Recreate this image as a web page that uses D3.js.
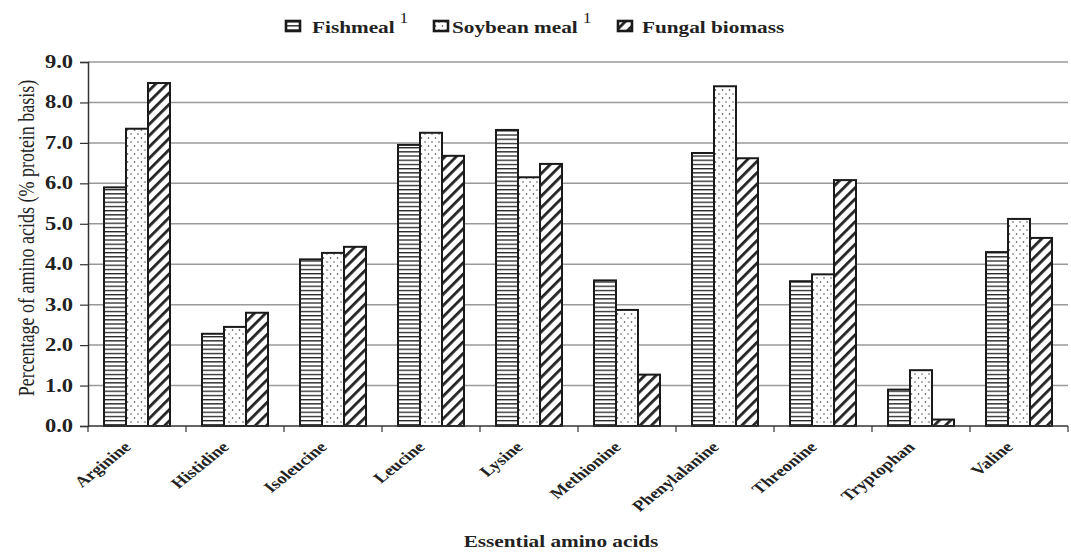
<!DOCTYPE html>
<html><head><meta charset="utf-8">
<script src="https://cdn.jsdelivr.net/npm/d3@7"></script>
<style>body{margin:0;background:#fff}svg{display:block}text{font-family:"Liberation Serif","Times New Roman",serif}</style>
</head><body><svg id="c" width="1071" height="555"></svg>
<script>
const categories = ["Arginine","Histidine","Isoleucine","Leucine","Lysine","Methionine","Phenylalanine","Threonine","Tryptophan","Valine"];
const seriesNames = ["Fishmeal","Soybean meal","Fungal biomass"];
const fishmeal = [5.9,2.28,4.12,6.95,7.32,3.6,6.75,3.58,0.9,4.3];
const soybean = [7.35,2.45,4.28,7.25,6.15,2.87,8.4,3.75,1.38,5.12];
const fungal = [8.48,2.8,4.43,6.68,6.48,1.27,6.62,6.08,0.16,4.65];
const yTicks = [0,1,2,3,4,5,6,7,8,9];

const SX = 1.25; // horizontal text stretch seen in the reference
const svg = d3.select("#c");
const m = {l:88, r:1068, t:62, b:426};
const x = d3.scaleBand().domain(categories).range([m.l, m.r]);
const x1 = d3.scaleBand().domain(seriesNames).range([0, 66]);
const y = d3.scaleLinear().domain([0,9]).range([m.b, m.t]);

const defs = svg.append("defs");
const p1 = defs.append("pattern").attr("id","pf").attr("patternUnits","userSpaceOnUse").attr("width",8).attr("height",4.2);
p1.append("rect").attr("width",8).attr("height",4.2).attr("fill","#fff");
p1.append("rect").attr("y",0).attr("width",8).attr("height",1.3).attr("fill","#222");
const p2 = defs.append("pattern").attr("id","ps").attr("patternUnits","userSpaceOnUse").attr("width",7).attr("height",8);
p2.append("rect").attr("width",7).attr("height",8).attr("fill","#fff");
p2.append("circle").attr("cx",1.5).attr("cy",2).attr("r",0.8).attr("fill","#333");
p2.append("circle").attr("cx",5).attr("cy",6).attr("r",0.8).attr("fill","#555");
const p3 = defs.append("pattern").attr("id","pg").attr("patternUnits","userSpaceOnUse").attr("width",8).attr("height",8).attr("patternTransform","rotate(45)");
p3.append("rect").attr("width",8).attr("height",8).attr("fill","#fff");
p3.append("rect").attr("x",0).attr("width",2.8).attr("height",8).attr("fill","#222");
const fills = ["url(#pf)","url(#ps)","url(#pg)"];

// gridlines
svg.append("g").selectAll("line").data(yTicks.slice(1)).join("line")
  .attr("x1",m.l).attr("x2",m.r).attr("y1",d=>y(d)).attr("y2",d=>y(d))
  .attr("stroke","#9a9a9a").attr("stroke-width",1.5);

// bars
const series = [fishmeal, soybean, fungal];
const g = svg.append("g");
categories.forEach((c,i)=>{
  const gx = x(c) + (x.bandwidth()-66)/2;
  seriesNames.forEach((s,j)=>{
    const v = series[j][i];
    g.append("rect").attr("x",gx + x1(s)).attr("y",y(v)).attr("width",x1.bandwidth()).attr("height",y(0)-y(v))
      .attr("fill",fills[j]).attr("stroke","#1a1a1a").attr("stroke-width",2);
  });
});

// y axis
const ya = svg.append("g").attr("transform",`translate(${m.l},0)`)
  .call(d3.axisLeft(y).tickValues(yTicks).tickFormat("").tickSize(8));
ya.select(".domain").attr("stroke","#333").attr("stroke-width",1.5);
ya.selectAll(".tick line").attr("stroke","#333").attr("stroke-width",1.2);
svg.append("g").selectAll("text").data(yTicks).join("text")
  .attr("transform",d=>`translate(73,${y(d)+6}) scale(${SX},1)`)
  .attr("text-anchor","end").attr("font-size",18).attr("font-weight","bold").attr("fill","#222")
  .text(d3.format(".1f"));

// x axis
const xa = svg.append("g").attr("transform",`translate(0,${m.b})`);
xa.append("line").attr("x1",m.l).attr("x2",m.r).attr("stroke","#333").attr("stroke-width",1.5);
const bounds = categories.map(c=>x(c)).concat([m.r]);
xa.selectAll(".tk").data(bounds).join("line").attr("class","tk")
  .attr("x1",d=>d).attr("x2",d=>d).attr("y1",0).attr("y2",6).attr("stroke","#333").attr("stroke-width",1.2);
xa.selectAll(".lbl").data(categories).join("text").attr("class","lbl")
  .attr("transform",d=>`translate(${x(d)+x.bandwidth()/2-5},22) scale(${SX},1) rotate(-45)`)
  .attr("text-anchor","end").attr("font-size",15).attr("font-weight","bold").attr("fill","#222")
  .text(d=>d);

// titles
svg.append("text").attr("transform",`translate(34,238) scale(${SX},1) rotate(-90)`).attr("text-anchor","middle")
  .attr("font-size",18).attr("fill","#222").text("Percentage of amino acids (% protein basis)");
svg.append("text").attr("transform",`translate(561,547) scale(${SX},1)`).attr("text-anchor","middle")
  .attr("font-size",17).attr("font-weight","bold").attr("fill","#222").text("Essential amino acids");

// legend
const leg = [{n:"Fishmeal",sup:true,ix:285,tx:312},{n:"Soybean meal",sup:true,ix:433,tx:452},{n:"Fungal biomass",sup:false,ix:617,tx:642}];
leg.forEach((L,j)=>{
  svg.append("rect").attr("x",L.ix+1).attr("y",21).attr("width",14).attr("height",10)
    .attr("fill",fills[j]).attr("stroke","#1a1a1a").attr("stroke-width",2.6);
  const t = svg.append("text").attr("transform",`translate(${L.tx},33) scale(${SX},1)`)
    .attr("font-size",17).attr("font-weight","bold").attr("fill","#222");
  t.append("tspan").text(L.n);
  if (L.sup) t.append("tspan").attr("dx",4).attr("dy",-10).attr("font-size",14).attr("font-weight","normal").text("1");
});
</script></body></html>
